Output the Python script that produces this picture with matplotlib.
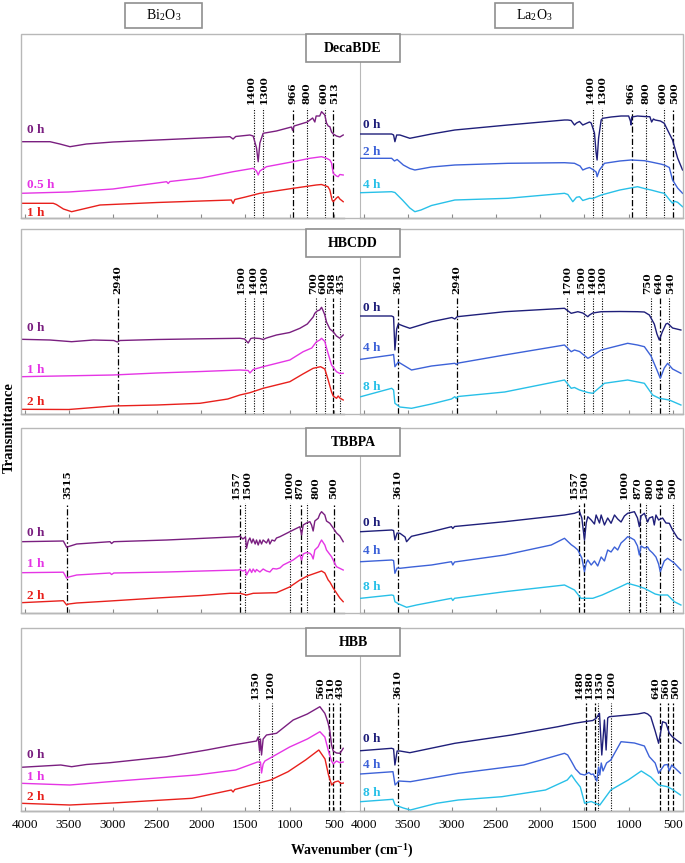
import matplotlib
matplotlib.use('Agg')
import matplotlib.pyplot as plt
import matplotlib.transforms as mtransforms
from matplotlib.patches import Rectangle

plt.rcParams['mathtext.fontset'] = 'stix'

# ======================= DATA =======================
ROW_NAMES = ['DecaBDE', 'HBCDD', 'TBBPA', 'HBB']
OXIDES = [r'Bi$_\mathregular{2}$O$_\mathregular{3}$', r'La$_\mathregular{2}$O$_\mathregular{3}$']
XTICKS = [4000, 3500, 3000, 2500, 2000, 1500, 1000, 500]
X_LABEL = r'Wavenumber (cm$^{\mathregular{-1}}$)'
Y_LABEL = 'Transmittance'

# ---- DecaBDE / Bi2O3 ----
DECA_BI_TIMES = ['0 h', '0.5 h', '1 h']
DECA_BI_0H = [(4040, 76.3), (3712, 76.3), (3600, 74), (3486, 71.3), (3300, 74), (3000, 76), (2500, 78), (2000, 80),
              (1676, 81.3), (1640, 79), (1610, 81.5), (1450, 83), (1413, 82), (1375, 70), (1356, 56.3), (1337, 75),
              (1300, 84.7), (1150, 87), (980, 91), (966, 87.5), (950, 92), (800, 96), (740, 100), (715, 96),
              (700, 102), (660, 102), (639, 106.3), (602, 103), (583, 95), (564, 92), (545, 91.3), (526, 86),
              (507, 84), (470, 82), (432, 81), (394, 83)]
DECA_BI_05H = [(4040, 24.7), (3500, 26), (3000, 29), (2392, 36.3), (2375, 34.5), (2355, 36.5), (2000, 40),
               (1640, 46.3), (1413, 49.7), (1375, 47), (1356, 43), (1337, 47), (1262, 51.3), (960, 56.3),
               (771, 59.7), (639, 61.3), (583, 59.7), (545, 58), (526, 55), (507, 44.7), (470, 42), (451, 41.3),
               (432, 43.5), (394, 43)]
DECA_BI_1H = [(4040, 14.7), (3675, 14.7), (3640, 13.5), (3560, 9), (3467, 6.3), (3410, 7.5), (3146, 13), (2500, 15.5),
              (2000, 17), (1660, 18), (1640, 14.5), (1620, 18.5), (1500, 21), (1337, 24.7), (960, 29.7), (700, 33),
              (640, 33.5), (567, 31.3), (545, 28), (520, 18), (507, 16.3), (470, 20), (451, 21.3), (432, 19),
              (394, 16.3)]
DECA_BI_PEAKS = [1400, 1300, 966, 800, 600, 513]

# ---- DecaBDE / La2O3 ----
DECA_LA_TIMES = ['0 h', '2 h', '4 h']
DECA_LA_0H = [(4032, 84), (3682, 84), (3660, 83), (3645, 76.3), (3625, 83), (3588, 83), (3476, 79.7), (3231, 84),
              (2967, 88), (2366, 93), (1726, 98), (1688, 98), (1650, 97.5), (1613, 93), (1590, 95), (1556, 96.5),
              (1519, 93), (1443, 96), (1424, 95), (1387, 85), (1368, 65), (1357, 58), (1340, 80), (1311, 98),
              (1293, 99.7), (1199, 101), (1086, 102), (1000, 102), (980, 97), (973, 93), (965, 101), (900, 102),
              (822, 101.5), (760, 101.3), (740, 96), (720, 99), (700, 98), (640, 97), (597, 94.7), (560, 88),
              (503, 78), (446, 60), (390, 48)]
DECA_LA_2H = [(4032, 59.7), (3682, 59.7), (3650, 57), (3620, 58.5), (3550, 53), (3476, 49.5), (3419, 48), (3231, 51),
              (2967, 53), (2366, 54.7), (1726, 55.3), (1613, 54.7), (1550, 52), (1519, 48), (1480, 49.5),
              (1443, 50.5), (1406, 48.5), (1368, 46), (1357, 41.3), (1330, 48), (1274, 54.7), (1100, 57), (973, 58),
              (822, 57.3), (747, 56), (640, 54), (597, 53), (540, 50.5), (503, 38), (446, 30), (390, 24.7)]
DECA_LA_4H = [(4032, 25.3), (3682, 26.3), (3645, 25.5), (3560, 18), (3476, 10), (3419, 6.3), (3350, 8), (3231, 12.5),
              (2967, 18), (2366, 19.7), (1726, 24.7), (1688, 23.5), (1632, 16.3), (1590, 20.7), (1556, 21.3),
              (1519, 17.5), (1443, 19.7), (1406, 19.5), (1311, 23), (1100, 28), (900, 31.3), (822, 29.5), (747, 28),
              (640, 25.5), (597, 24.7), (540, 18.5), (503, 14.7), (480, 16.7), (446, 15.7), (390, 11.3)]
DECA_LA_PEAKS = [1400, 1300, 966, 800, 600, 500]

# ---- HBCDD / Bi2O3 ----
HBCDD_BI_TIMES = ['0 h', '1 h', '2 h']
HBCDD_BI_0H = [(4040, 74.7), (3712, 74), (3467, 72.3), (3222, 74), (2990, 73.5), (2950, 72), (2920, 73.5),
               (2500, 74.5), (2000, 75.2), (1563, 75.7), (1510, 75), (1469, 71), (1440, 75.5), (1413, 76),
               (1337, 75.5), (1300, 74.5), (1262, 76), (1149, 79), (1000, 81.5), (884, 85.7), (800, 90), (734, 97),
               (715, 100.7), (690, 103), (660, 104), (639, 106.7), (620, 103), (602, 99), (583, 92), (545, 85),
               (507, 82.3), (470, 78), (432, 75.7), (394, 79)]
HBCDD_BI_1H = [(4040, 37.3), (3000, 39), (2500, 41), (2000, 42.5), (1563, 44), (1469, 43.5), (1450, 41), (1413, 44.5),
               (1300, 47.3), (998, 54), (847, 62.3), (750, 66), (696, 72.3), (658, 74), (639, 75.7), (602, 72.5),
               (583, 66), (526, 49), (470, 42.3), (432, 40.5), (394, 40.7)]
HBCDD_BI_2H = [(4040, 4.7), (3500, 4.5), (3000, 8), (2500, 9), (2016, 10.7), (1700, 15), (1563, 19), (1450, 21.3),
               (1300, 25.7), (998, 32.3), (850, 40), (734, 45.7), (650, 47.3), (602, 45), (564, 34), (526, 22),
               (507, 18), (470, 15.7), (451, 18), (432, 16), (394, 14)]
HBCDD_BI_PEAKS = [2940, 1500, 1400, 1300, 700, 600, 508, 435]

# ---- HBCDD / La2O3 ----
HBCDD_LA_TIMES = ['0 h', '4 h', '8 h']
HBCDD_LA_0H = [(4032, 98), (3682, 98), (3660, 97), (3645, 64), (3625, 85), (3607, 90), (3550, 88), (3476, 85.7),
               (3231, 92.3), (3000, 96.5), (2967, 95), (2940, 97.3), (2403, 102.3), (1726, 105.7), (1650, 100.7),
               (1575, 102.3), (1519, 101), (1462, 97.3), (1443, 99), (1406, 101), (1311, 102.3), (1100, 102.5),
               (900, 102.3), (822, 102), (766, 99), (710, 90), (680, 80), (653, 74), (620, 82), (578, 90),
               (559, 90.7), (503, 86), (409, 84)]
HBCDD_LA_4H = [(4032, 54.7), (3682, 59), (3660, 59.5), (3645, 47.3), (3607, 52), (3457, 44), (3231, 48), (2967, 50.7),
               (2950, 49.5), (2930, 50.9), (2403, 59), (1726, 69), (1650, 62.3), (1613, 64), (1556, 62.5),
               (1462, 55.7), (1443, 56.5), (1311, 64), (1199, 66.5), (1011, 70.7), (900, 69), (822, 67.3), (747, 58),
               (680, 44), (642, 35.7), (597, 46), (559, 50.7), (503, 45), (409, 40.7)]
HBCDD_LA_8H = [(4032, 17.3), (3682, 25.7), (3660, 24), (3645, 10.7), (3590, 7), (3457, 5.7), (3231, 10), (3005, 15),
               (2967, 17.3), (2950, 15.5), (2930, 17.5), (2403, 22), (1726, 34), (1650, 25.7), (1613, 26.5),
               (1556, 24), (1462, 21.5), (1406, 20.7), (1274, 30.7), (1011, 34), (822, 30.7), (729, 19), (653, 15.7),
               (540, 14), (409, 9)]
HBCDD_LA_PEAKS = [3610, 2940, 1700, 1500, 1400, 1300, 750, 640, 540]

# ---- TBBPA / Bi2O3 ----
TBBPA_BI_TIMES = ['0 h', '1 h', '2 h']
TBBPA_BI_0H = [(4040, 71.3), (3561, 72), (3523, 65.7), (3500, 66.5), (3410, 69), (3033, 71.3), (3015, 69.5),
               (2990, 71.3), (2392, 73), (1582, 76.3), (1563, 77), (1530, 74), (1500, 76), (1488, 64.7), (1469, 72),
               (1450, 75), (1430, 70), (1413, 74), (1390, 69), (1375, 73), (1356, 68), (1337, 73), (1318, 69),
               (1300, 73), (1262, 70), (1240, 74), (1224, 69), (1200, 73), (1170, 72), (1149, 75), (1110, 76.3),
               (960, 83), (884, 86.3), (865, 78), (847, 88), (809, 90), (771, 91.3), (752, 88), (734, 82), (715, 92),
               (677, 94.7), (658, 99), (639, 101.3), (602, 98), (583, 92), (545, 89.7), (507, 85), (470, 80),
               (432, 77), (394, 71.3)]
TBBPA_BI_1H = [(4040, 40.3), (3561, 40.8), (3523, 34.7), (3500, 36), (3410, 38), (3033, 40), (3015, 38.5), (2990, 40),
               (2392, 41), (1582, 43), (1563, 43.5), (1530, 42), (1500, 43), (1488, 38), (1470, 41), (1450, 44),
               (1430, 40.5), (1413, 44), (1390, 41), (1375, 43.5), (1337, 41), (1300, 44), (1262, 42), (1224, 41),
               (1190, 44.5), (1149, 44), (1110, 45), (1073, 48), (960, 53), (884, 58), (865, 53), (847, 59),
               (809, 60.5), (771, 59.7), (752, 58), (734, 54), (715, 63), (677, 66.3), (658, 70), (639, 73),
               (602, 68), (583, 63), (526, 56.3), (470, 46.3), (394, 43)]
TBBPA_BI_2H = [(4040, 10.3), (3561, 12.3), (3523, 8), (3500, 9), (3410, 10), (3033, 12), (2500, 15), (2000, 17.5),
               (1676, 19.7), (1563, 19.7), (1488, 18), (1413, 19.7), (1149, 20.3), (1000, 26), (884, 33), (800, 37),
               (639, 42), (602, 40), (564, 33), (545, 31), (507, 25), (470, 20), (432, 15), (394, 11.3)]
TBBPA_BI_PEAKS = [3515, 1557, 1500, 1000, 870, 800, 500]

# ---- TBBPA / La2O3 ----
TBBPA_LA_TIMES = ['0 h', '4 h', '8 h']
TBBPA_LA_0H = [(4032, 81.3), (3682, 83), (3660, 82.5), (3645, 73), (3620, 80), (3588, 79.7), (3530, 76), (3513, 71.3),
               (3476, 75), (3457, 76.7), (3231, 81.3), (3005, 86.3), (2990, 84.5), (2970, 86.5), (2403, 91.3),
               (1726, 98), (1613, 99.7), (1575, 101), (1556, 101.3), (1530, 95), (1500, 73), (1480, 90),
               (1462, 96.3), (1424, 93), (1387, 89), (1368, 98), (1330, 90), (1311, 98), (1274, 88), (1237, 95),
               (1199, 89.7), (1160, 98), (1124, 94), (1086, 91), (1048, 97), (1011, 99.7), (935, 101.3), (900, 95),
               (879, 86.3), (860, 97), (822, 99.7), (785, 91), (766, 95), (729, 96.3), (710, 88), (691, 98),
               (661, 93), (616, 95), (578, 90), (540, 89.7), (503, 83), (446, 75), (409, 73)]
TBBPA_LA_4H = [(4032, 51.3), (3682, 53), (3660, 52.5), (3645, 39.7), (3620, 45), (3588, 44.7), (3457, 46), (3231, 48),
               (3005, 51.3), (2990, 48), (2970, 51), (2403, 58), (1876, 68), (1726, 74.7), (1650, 68.3), (1613, 66),
               (1575, 63), (1530, 55), (1500, 41.3), (1480, 50), (1462, 53), (1424, 48), (1387, 52), (1350, 47),
               (1311, 56), (1274, 52), (1237, 63), (1199, 61), (1160, 66), (1124, 63), (1086, 70), (1048, 73),
               (1011, 76.3), (973, 75), (935, 73), (900, 67), (879, 58), (860, 67), (822, 65), (785, 66), (766, 63),
               (729, 60), (691, 56), (661, 49), (642, 41.3), (597, 52), (559, 54.7), (484, 50), (409, 43)]
TBBPA_LA_8H = [(4032, 14.7), (3682, 18), (3660, 17.5), (3645, 11.3), (3600, 9), (3513, 5.7), (3400, 8), (3005, 14.7),
               (2990, 12.5), (2970, 14.7), (2403, 21.3), (1726, 28), (1613, 23), (1540, 14.7), (1406, 14.7),
               (1300, 18), (1100, 26), (1011, 29.7), (900, 27), (822, 24.7), (700, 19), (653, 18), (559, 18),
               (484, 11.3), (409, 8)]
TBBPA_LA_PEAKS = [3610, 1557, 1500, 1000, 870, 800, 640, 500]

# ---- HBB / Bi2O3 ----
HBB_BI_TIMES = ['0 h', '1 h', '2 h']
HBB_BI_0H = [(4040, 43.7), (3590, 46), (3467, 44.3), (3300, 46.5), (3033, 48.3), (2392, 54.3), (1940, 61), (1639, 66),
             (1375, 70), (1356, 74), (1340, 60), (1330, 72), (1318, 56), (1300, 72), (1262, 76), (1149, 77.7),
             (960, 91), (800, 97), (658, 104.3), (602, 97.7), (583, 93), (564, 87.7), (545, 80), (526, 66), (507, 60),
             (470, 58), (432, 57.7), (413, 60), (394, 62.7)]
HBB_BI_1H = [(4040, 27.7), (3487, 26), (3043, 29.3), (2055, 36), (1611, 41), (1364, 49), (1330, 49), (1318, 38),
             (1300, 47), (1280, 50), (1000, 64), (800, 72), (658, 79.3), (602, 74), (564, 61), (526, 50), (507, 47),
             (470, 50), (432, 48.3), (394, 49)]
HBB_BI_2H = [(4040, 7.7), (3487, 6), (2944, 8.3), (2105, 12.7), (1660, 21), (1640, 19), (1620, 21.5), (1216, 31),
             (1018, 39.3), (820, 51), (670, 61), (600, 52), (560, 36), (524, 26), (490, 29), (450, 30), (420, 27.5),
             (385, 28)]
HBB_BI_PEAKS = [1350, 1200, 560, 510, 430]

# ---- HBB / La2O3 ----
HBB_LA_TIMES = ['0 h', '4 h', '8 h']
HBB_LA_0H = [(4032, 60.3), (3682, 62.7), (3660, 62), (3645, 46), (3620, 60), (3588, 60), (3476, 58.3), (2967, 67.7),
             (2327, 76), (1801, 84.3), (1613, 87.7), (1500, 89.3), (1406, 90.5), (1368, 92.7), (1330, 97.7),
             (1304, 56), (1274, 91), (1255, 61), (1237, 93), (1218, 94.3), (1011, 96), (898, 97), (822, 98.3),
             (785, 97), (750, 94.3), (700, 80), (661, 67.7), (616, 89.3), (578, 88), (540, 77.7), (503, 74),
             (409, 67.7)]
HBB_LA_4H = [(4037, 37), (3667, 39.3), (3643, 26), (3600, 30), (3470, 29.3), (2928, 37.7), (2188, 46), (1726, 57.7),
             (1690, 56), (1650, 50), (1600, 42), (1547, 37), (1498, 36), (1450, 38.5), (1424, 36.5), (1400, 37),
             (1360, 30), (1340, 44), (1326, 36), (1310, 48), (1290, 40), (1250, 48), (1202, 51), (1086, 69.3),
             (935, 68), (822, 65), (766, 54.3), (700, 48), (661, 37.7), (597, 46), (560, 46.5), (540, 40),
             (512, 46), (414, 37.7)]
HBB_LA_8H = [(4037, 9.3), (3667, 11.7), (3643, 6), (3550, 3), (3470, 1), (3174, 7.7), (2928, 11), (2435, 14.3),
             (1941, 21), (1695, 31), (1647, 36), (1600, 30), (1547, 24), (1498, 7.7), (1424, 9.5), (1399, 8.5),
             (1326, 6), (1202, 21), (1005, 31), (857, 40), (750, 34), (660, 26), (562, 24.3), (512, 22), (414, 16)]
HBB_LA_PEAKS = [3610, 1480, 1380, 1350, 1200, 640, 560, 500]

# ======================= STYLE / LAYOUT =======================
BI_COLORS = ['#7a1f80', '#e535e5', '#e8201c']
LA_COLORS = ['#1f1f7a', '#3d62d8', '#28c0e8']

# peak line styles per panel (d = dash-dot, o = dotted, a = dashed)
DECA_BI_LS = ['o', 'o', 'd', 'o', 'o', 'd']
DECA_LA_LS = ['o', 'o', 'd', 'o', 'o', 'd']
HBCDD_BI_LS = ['d', 'o', 'o', 'o', 'o', 'o', 'a', 'o']
HBCDD_LA_LS = ['d', 'd', 'o', 'o', 'o', 'o', 'o', 'd', 'o']
TBBPA_BI_LS = ['d', 'd', 'o', 'o', 'd', 'o', 'd']
TBBPA_LA_LS = ['d', 'd', 'a', 'o', 'a', 'o', 'd', 'o']
HBB_BI_LS = ['o', 'o', 'a', 'a', 'a']
HBB_LA_LS = ['d', 'a', 'a', 'o', 'o', 'a', 'a', 'a']
DASHES = {'d': (0, (5, 1.8, 1.2, 1.8)), 'o': (0, (1, 1.3)), 'a': (0, (3.5, 1.5))}
DASH_LW = {'d': 0.9, 'o': 0.8, 'a': 0.9}

# label placement (x in wavenumber): labels spread apart as in the original
DECA_BI_LABX = [1440, 1290, 960, 809, 610, 490]
DECA_LA_LABX = [1430, 1300, 975, 803, 610, 480]
HBCDD_BI_LABX = [2940, 1550, 1413, 1290, 730, 625, 520, 420]
HBCDD_LA_LABX = [3610, 2940, 1700, 1535, 1417, 1295, 790, 655, 530]
TBBPA_BI_LABX = [3515, 1610, 1475, 1010, 880, 705, 500]
TBBPA_LA_LABX = [3610, 1620, 1500, 1048, 898, 760, 634, 503]
HBB_BI_LABX = [1386, 1216, 645, 540, 430]
HBB_LA_LABX = [3610, 1565, 1445, 1330, 1200, 690, 577, 470]

# time label heights (data units of each panel)
DECA_BI_TY = [88, 33, 5.3]
DECA_LA_TY = [93, 66.3, 33]
HBCDD_BI_TY = [85.7, 44, 12.3]
HBCDD_LA_TY = [105.7, 65.7, 27.3]
TBBPA_BI_TY = [80.3, 49, 17]
TBBPA_LA_TY = [90.3, 62, 25.7]
HBB_BI_TY = [56, 34.3, 13.7]
HBB_LA_TY = [71.7, 46, 17.7]

ROW_TOP = [34, 229, 428, 628]
ROW_BOT = [218, 414, 613, 811]
LINE_TOP = [110, 116, 110, 108]
LABEL_Y = [114, 120, 114, 112]
LEFT_X = (21, 344)
RIGHT_X = (360, 683)
XLIM = (4040, 385)

PANELS = [
    [(DECA_BI_TIMES, [DECA_BI_0H, DECA_BI_05H, DECA_BI_1H], DECA_BI_PEAKS, DECA_BI_LS, DECA_BI_LABX, DECA_BI_TY),
     (DECA_LA_TIMES, [DECA_LA_0H, DECA_LA_2H, DECA_LA_4H], DECA_LA_PEAKS, DECA_LA_LS, DECA_LA_LABX, DECA_LA_TY)],
    [(HBCDD_BI_TIMES, [HBCDD_BI_0H, HBCDD_BI_1H, HBCDD_BI_2H], HBCDD_BI_PEAKS, HBCDD_BI_LS, HBCDD_BI_LABX, HBCDD_BI_TY),
     (HBCDD_LA_TIMES, [HBCDD_LA_0H, HBCDD_LA_4H, HBCDD_LA_8H], HBCDD_LA_PEAKS, HBCDD_LA_LS, HBCDD_LA_LABX, HBCDD_LA_TY)],
    [(TBBPA_BI_TIMES, [TBBPA_BI_0H, TBBPA_BI_1H, TBBPA_BI_2H], TBBPA_BI_PEAKS, TBBPA_BI_LS, TBBPA_BI_LABX, TBBPA_BI_TY),
     (TBBPA_LA_TIMES, [TBBPA_LA_0H, TBBPA_LA_4H, TBBPA_LA_8H], TBBPA_LA_PEAKS, TBBPA_LA_LS, TBBPA_LA_LABX, TBBPA_LA_TY)],
    [(HBB_BI_TIMES, [HBB_BI_0H, HBB_BI_1H, HBB_BI_2H], HBB_BI_PEAKS, HBB_BI_LS, HBB_BI_LABX, HBB_BI_TY),
     (HBB_LA_TIMES, [HBB_LA_0H, HBB_LA_4H, HBB_LA_8H], HBB_LA_PEAKS, HBB_LA_LS, HBB_LA_LABX, HBB_LA_TY)],
]

W, H = 685, 863
SERIF = ['Liberation Serif', 'DejaVu Serif']
FRAME_C = '#b8b8b8'
AXIS_C = '#8a8a8a'

fig = plt.figure(figsize=(W / 100, H / 100), dpi=100)


def rect(x0, y0, x1, y1):
    return [x0 / W, 1 - y1 / H, (x1 - x0) / W, (y1 - y0) / H]


def fig_box(x0, y0, x1, y1, **kw):
    r = Rectangle((x0 / W, 1 - y1 / H), (x1 - x0) / W, (y1 - y0) / H,
                  transform=fig.transFigure, **kw)
    fig.add_artist(r)
    return r


for r, row in enumerate(PANELS):
    top, bot = ROW_TOP[r], ROW_BOT[r]
    height = bot - top
    fig_box(LEFT_X[0], top, RIGHT_X[1], bot, fill=False, ec=FRAME_C, lw=1.0, zorder=4)
    for c, (times, series, peaks, styles, labx, ty) in enumerate(row):
        xs = LEFT_X if c == 0 else RIGHT_X
        ax = fig.add_axes(rect(xs[0], top, xs[1], bot))
        ax.set_xlim(*XLIM)
        ax.set_ylim(0, height)
        for s in ['top', 'right']:
            ax.spines[s].set_visible(False)
        ax.spines['left'].set_visible(c == 1)
        ax.spines['left'].set_color(FRAME_C)
        ax.spines['bottom'].set_color(AXIS_C)
        ax.spines['bottom'].set_linewidth(1.0)
        ax.set_yticks([])
        ax.set_xticks(XTICKS)
        ax.tick_params(axis='x', direction='in', length=3, width=0.8, color=AXIS_C,
                       labelbottom=(r == 3), labelsize=9.5, pad=6)
        if r == 3:
            for lab in ax.get_xticklabels():
                lab.set_fontfamily(SERIF)
        colors = BI_COLORS if c == 0 else LA_COLORS
        for k, (pts, col) in enumerate(zip(series, colors)):
            wn = [p[0] for p in pts]
            tv = [p[1] for p in pts]
            ax.plot(wn, tv, color=col, lw=1.0, solid_joinstyle='round', zorder=3)
        trans = mtransforms.blended_transform_factory(ax.transAxes, ax.transData)
        xoff = 0.018 if c == 0 else 0.008
        for k, (t, y) in enumerate(zip(times, ty)):
            ax.text(xoff, y, t, transform=trans, color=colors[k], fontsize=9.5,
                    fontweight='bold', family=SERIF, ha='left', va='center', zorder=5)
        for p, ls, lx in zip(peaks, styles, labx):
            ax.plot([p, p], [0, LINE_TOP[r]], color='black', ls=DASHES[ls], lw=DASH_LW[ls], zorder=2)
            ax.text(lx, LABEL_Y[r], str(p), rotation=90, ha='center', va='bottom',
                    fontsize=7.5, fontweight='bold', family=['DejaVu Serif'], color='black')

    fig_box(306, top, 400, top + 28, fc='white', ec='#8f8f8f', lw=1.2, zorder=6)
    fig.text(353 / W, 1 - (top + 14) / H, ROW_NAMES[r], ha='center', va='center',
             fontsize=10, fontweight='bold', family=SERIF, zorder=7)

for (x0, x1), name in zip([(125, 202), (495, 573)], OXIDES):
    fig_box(x0, 3, x1, 28, fc='white', ec='#8f8f8f', lw=1.2, zorder=6)
    fig.text((x0 + x1) / 2 / W, 1 - 15.5 / H, name, ha='center', va='center',
             fontsize=10, family=SERIF, zorder=7)

fig.text(9 / W, 1 - 428 / H, Y_LABEL, rotation=90, ha='center', va='center',
         fontsize=10.5, fontweight='bold', family=SERIF)
fig.text(352 / W, 1 - 851 / H, X_LABEL, ha='center', va='center',
         fontsize=10, fontweight='bold', family=SERIF)

fig.savefig('out.png', dpi=100, facecolor='white')
